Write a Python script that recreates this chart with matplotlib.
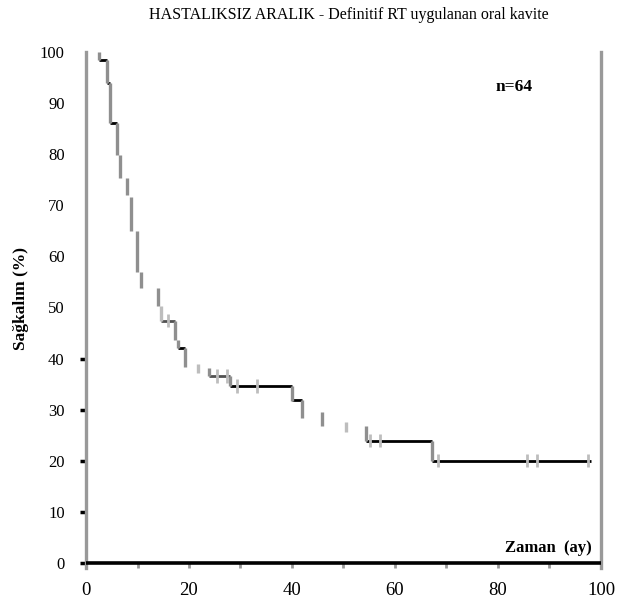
import matplotlib
matplotlib.use("Agg")
import matplotlib.pyplot as plt

# ---- data ----
title = "HASTALIKSIZ ARALIK - Definitif RT uygulanan oral kavite"
xlabel_text = "Zaman  (ay)"
ylabel_text = "Sağkalım (%)"
n_text = "n=64"

x_ticks = [0, 20, 40, 60, 80, 100]
x_minor = [10, 30, 50, 70, 90]
y_ticks = [0, 10, 20, 30, 40, 50, 60, 70, 80, 90, 100]

# vertical drops of the survival curve: time, value before, value after
drop_t = [2.5, 4.1, 4.7, 6.0, 6.6, 8.0, 8.7, 9.9, 10.7, 14.0, 14.6, 17.3, 17.9,
          19.2, 21.7, 23.9, 28.0, 40.0, 42.0, 45.8, 50.5, 54.4, 67.2]
drop_top = [100.0, 98.4, 93.9, 86.1, 79.8, 75.3, 71.6, 65.0, 56.9, 53.8, 50.3, 47.4, 43.6,
            42.0, 38.9, 38.2, 36.6, 34.6, 31.9, 29.5, 27.6, 26.8, 23.9]
drop_bot = [98.4, 93.9, 86.1, 79.8, 75.3, 72.0, 65.0, 56.9, 53.8, 50.3, 47.4, 43.6, 42.0,
            38.4, 37.2, 36.6, 34.6, 31.7, 28.4, 26.8, 25.6, 23.9, 20.0]
drop_light = [False, False, False, False, False, False, False, False, False, False, True, False, False,
              False, True, False, False, False, False, False, True, False, False]

# visible horizontal plateaus: level, start, end, dark-grey flag
plat_y = [98.4, 93.9, 86.1, 47.4, 42.0, 36.6, 34.6, 31.9, 23.9, 20.0]
plat_x0 = [2.5, 4.1, 4.7, 14.6, 17.9, 23.9, 28.0, 40.0, 54.4, 67.2]
plat_x1 = [4.1, 4.7, 6.0, 17.3, 19.2, 28.0, 40.0, 42.0, 67.2, 98.0]
plat_grey = [False, False, False, True, False, True, False, False, False, False]

# censored observations
cens_t = [15.9, 25.4, 27.4, 29.3, 33.2, 55.1, 57.1, 68.3, 85.6, 87.6, 97.5]
cens_s = [47.4, 36.6, 36.6, 34.6, 34.6, 23.9, 23.9, 20.0, 20.0, 20.0, 20.0]

# ---- figure ----
plt.rcParams['font.family'] = ['Liberation Serif', 'DejaVu Serif']
fig = plt.figure(figsize=(6.29, 6.02), dpi=100)
ax = fig.add_axes([86/629, 1-568/602, (601-86)/629, (568-52)/602])
ax.set_xlim(0, 100)
ax.set_ylim(-1.0, 100)

GREY = '#8f8f8f'
LIGHT = '#bdbdbd'

for t, a, b, lt in zip(drop_t, drop_top, drop_bot, drop_light):
    ax.vlines(t, b, a, colors=LIGHT if lt else GREY, linewidth=2.4, zorder=3)
for y, a, b, g in zip(plat_y, plat_x0, plat_x1, plat_grey):
    ax.hlines(y, a, b, colors='#505050' if g else 'black', linewidth=2.0, zorder=2)
for t, s in zip(cens_t, cens_s):
    ax.vlines(t, s - 1.3, s + 1.3, colors=LIGHT, linewidth=2.0, zorder=4)

# baseline at 0
ax.axhline(0, color='black', linewidth=2.6, zorder=5)

for side in ['left', 'right']:
    ax.spines[side].set_color('#999999')
    ax.spines[side].set_linewidth(2.4)
ax.spines['top'].set_visible(False)
ax.spines['bottom'].set_visible(False)

ax.set_xticks(x_ticks)
ax.set_xticks(x_minor, minor=True)
ax.set_yticks(y_ticks)
ax.tick_params(axis='x', which='both', direction='in', length=4, width=2, color='#999999',
               labelsize=13.5, pad=10)
ax.tick_params(axis='y', direction='out', length=4.3, width=2.5, color='black',
               labelsize=12, pad=11)
for tk, v in zip(ax.yaxis.get_major_ticks(), y_ticks):
    if v >= 50:
        tk.tick1line.set_visible(False)

fig.text(349/629, 1-15/602, title, fontsize=11.5, ha='center', va='center')
fig.text(21/629, 1-298/602, ylabel_text, rotation=90, fontsize=12.5, fontweight='bold',
         ha='center', va='center')
ax.text(83.1, 93.2, n_text, fontsize=12.5, fontweight='bold', ha='center', va='center')
ax.text(98.3, 2.9, xlabel_text, fontsize=12, fontweight='bold', ha='right', va='center')

fig.savefig('out.png', dpi=100)
